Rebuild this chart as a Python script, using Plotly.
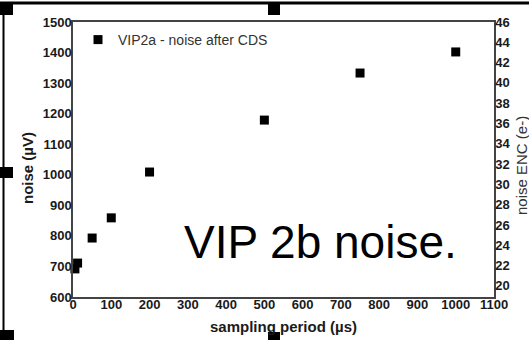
import plotly.graph_objects as go

# Noise measured after correlated double sampling vs. sampling period
sampling_period_us = [5, 12, 50, 100, 200, 500, 750, 1000]
noise_uV = [692, 711, 793, 859, 1009, 1179, 1333, 1402]

x_ticks = list(range(0, 1101, 100))
y_ticks = list(range(600, 1501, 100))
enc_ticks = list(range(20, 47, 2))

series_name = "VIP2a - noise after CDS"
overlay_text = "VIP 2b noise."

W, H = 529, 340
L, R, T, B = 73, 494, 22, 297   # plot-area pixel edges


def px(x):
    return (x - L) / (R - L)


def py(y):
    return (B - y) / (B - T)


FONT = "Liberation Sans, Arial, sans-serif"
AX = "#444444"
TXT = "#1a1a1a"

fig = go.Figure()
fig.add_trace(go.Scatter(
    x=sampling_period_us, y=noise_uV, mode="markers", name=series_name,
    marker=dict(symbol="square", size=9, color="black", line=dict(width=0)),
    cliponaxis=False,
))
# invisible trace on the secondary (ENC) axis so it is drawn
fig.add_trace(go.Scatter(x=[None], y=[None], yaxis="y2", showlegend=False))

fig.update_layout(
    width=W, height=H,
    margin=dict(l=L, r=W - R, t=T, b=H - B),
    paper_bgcolor="white", plot_bgcolor="white",
    font=dict(family=FONT, color=TXT),
    showlegend=True,
    legend=dict(x=px(78), y=py(24), xanchor="left", yanchor="top",
                bgcolor="rgba(0,0,0,0)", font=dict(size=14, color="#333333"),
                itemwidth=30),
    xaxis=dict(range=[0, 1100], tickvals=x_ticks, showgrid=False, zeroline=False,
               showline=True, linecolor=AX, linewidth=1.5, mirror=True,
               ticks="", ticklabelstandoff=-5,
               tickfont=dict(size=13, family=FONT, color=TXT, weight="bold")),
    yaxis=dict(range=[600, 1500], tickvals=y_ticks, showgrid=False, zeroline=False,
               showline=True, linecolor=AX, linewidth=1.5,
               ticks="", ticklabelstandoff=-3,
               tickfont=dict(size=13, family=FONT, color=TXT, weight="bold")),
    yaxis2=dict(range=[18.9, 46], tickvals=enc_ticks, overlaying="y", side="right",
                showgrid=False, zeroline=False, showline=True, linecolor=AX,
                linewidth=1.5, ticks="", ticklabelstandoff=-3,
                tickfont=dict(size=13, family=FONT, color=TXT, weight="bold")),
)

ann = []
ann.append(dict(text="noise (\u00b5V)", x=px(27), y=py(168), textangle=-90,
                font=dict(size=15, family=FONT, color=TXT, weight="bold")))
ann.append(dict(text="sampling period (\u00b5s)", x=px(283), y=py(326),
                font=dict(size=15, family=FONT, color=TXT, weight="bold")))
ann.append(dict(text="noise ENC (e-)", x=px(521), y=py(166), textangle=-90,
                font=dict(size=15, family=FONT, color="#333333")))
ann.append(dict(text=overlay_text, x=px(182), y=py(242), xanchor="left",
                font=dict(size=46, family=FONT, color="black")))
for a in ann:
    a.update(xref="paper", yref="paper", showarrow=False)
    a.setdefault("xanchor", "center")
    a.setdefault("yanchor", "middle")
fig.update_layout(annotations=ann)

# frame of the embedded picture with its selection handles
shapes = [
    dict(type="line", x0=px(0), x1=px(W), y0=py(3), y1=py(3),
         line=dict(color="black", width=3)),
    dict(type="line", x0=px(3.5), x1=px(3.5), y0=py(3), y1=py(332),
         line=dict(color="black", width=2)),
]
for (x0, y0, x1, y1) in [(0, 3, 13, 15), (268, 3, 280, 15), (0, 167, 13, 178),
                         (0, 330, 14, 341), (268, 332, 280, 341)]:
    shapes.append(dict(type="rect", x0=px(x0), x1=px(x1), y0=py(y0), y1=py(y1),
                       fillcolor="black", line=dict(width=0)))
for s in shapes:
    s.update(xref="paper", yref="paper", layer="above")
fig.update_layout(shapes=shapes)

fig.write_html("out.html")
